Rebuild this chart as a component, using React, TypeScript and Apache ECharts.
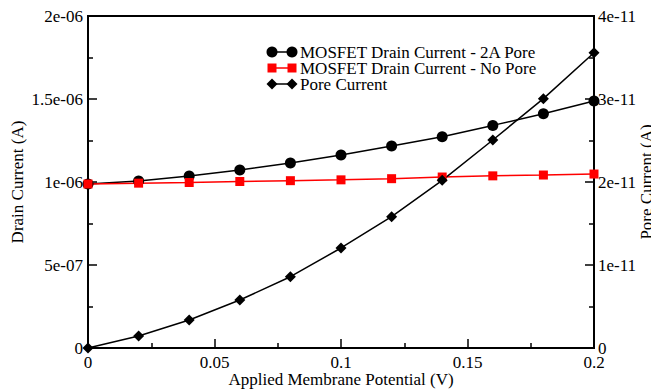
import React, { useEffect, useRef } from "react";
import * as echarts from "echarts";

const potentials = [0, 0.02, 0.04, 0.06, 0.08, 0.1, 0.12, 0.14, 0.16, 0.18, 0.2];
const drain2A = [0.988e-6, 1.006e-6, 1.036e-6, 1.072e-6, 1.114e-6, 1.163e-6, 1.217e-6, 1.273e-6, 1.341e-6, 1.411e-6, 1.488e-6];
const drainNoPore = [0.988e-6, 0.993e-6, 0.997e-6, 1.003e-6, 1.008e-6, 1.013e-6, 1.020e-6, 1.030e-6, 1.037e-6, 1.042e-6, 1.048e-6];
const poreCurrent = [0, 0.145e-11, 0.337e-11, 0.578e-11, 0.859e-11, 1.205e-11, 1.582e-11, 2.02e-11, 2.506e-11, 3.004e-11, 3.558e-11];
const seriesNames = ["MOSFET Drain Current - 2A Pore", "MOSFET Drain Current - No Pore", "Pore Current"];

const FONT = "'Liberation Serif', 'Times New Roman', serif";

function sci(v: number): string {
  if (v === 0) return "0";
  const s = Number(v.toPrecision(6)).toExponential();
  return s.replace(/e([+-])(\d)$/, "e$10$2");
}

export default function App() {
  const ref = useRef<HTMLDivElement>(null);
  useEffect(() => {
    if (!ref.current) return;
    const chart = echarts.init(ref.current, null, { renderer: "svg" });
    const axisCommon = {
      axisLine: { show: true, lineStyle: { color: "#000", width: 2 } },
      axisTick: { show: true, inside: true, length: 9, lineStyle: { color: "#000", width: 1.5 } },
      minorTick: { show: true, splitNumber: 2, length: 5, lineStyle: { color: "#000", width: 1.5 } },
      splitLine: { show: false },
      nameLocation: "middle" as const,
      nameMoveOverlap: false,
      nameTextStyle: { fontFamily: FONT, fontSize: 17, color: "#000" },
      axisLabel: { fontFamily: FONT, fontSize: 17, color: "#000" },
    };
    const lx1 = 272, lx2 = 292;
    const rows = [52, 68, 84];
    const d = 5.5;
    const graphic: any[] = [
      { type: "line", shape: { x1: lx1, y1: rows[0], x2: lx2, y2: rows[0] }, style: { stroke: "#000", lineWidth: 1.5 } },
      { type: "circle", shape: { cx: lx1, cy: rows[0], r: 5.5 }, style: { fill: "#000" } },
      { type: "circle", shape: { cx: lx2, cy: rows[0], r: 5.5 }, style: { fill: "#000" } },
      { type: "line", shape: { x1: lx1, y1: rows[1], x2: lx2, y2: rows[1] }, style: { stroke: "#ff0000", lineWidth: 1.5 } },
      { type: "rect", shape: { x: lx1 - 4.5, y: rows[1] - 4.5, width: 9, height: 9 }, style: { fill: "#ff0000" } },
      { type: "rect", shape: { x: lx2 - 4.5, y: rows[1] - 4.5, width: 9, height: 9 }, style: { fill: "#ff0000" } },
      { type: "line", shape: { x1: lx1, y1: rows[2], x2: lx2, y2: rows[2] }, style: { stroke: "#000", lineWidth: 1.5 } },
      { type: "polygon", shape: { points: [[lx1, rows[2] - d], [lx1 + d, rows[2]], [lx1, rows[2] + d], [lx1 - d, rows[2]]] }, style: { fill: "#000" } },
      { type: "polygon", shape: { points: [[lx2, rows[2] - d], [lx2 + d, rows[2]], [lx2, rows[2] + d], [lx2 - d, rows[2]]] }, style: { fill: "#000" } },
    ];
    seriesNames.forEach((n, i) => {
      graphic.push({
        type: "text",
        x: 300,
        y: rows[i],
        style: { text: n, fontFamily: FONT, fontSize: 17, lineHeight: 16, fill: "#000", verticalAlign: "middle", align: "left" },
      });
    });
    chart.setOption({
      animation: false,
      backgroundColor: "#fff",
      grid: {
        left: 88, right: 57, top: 16, bottom: 42,
        containLabel: false, outerBoundsMode: "none",
        show: true, borderColor: "#000", borderWidth: 2,
      },
      xAxis: {
        type: "value",
        min: 0,
        max: 0.2,
        interval: 0.05,
        name: "Applied Membrane Potential (V)",
        nameGap: 23,
        ...axisCommon,
        axisLabel: { ...axisCommon.axisLabel, margin: 6, formatter: (v: number) => String(Number(v.toPrecision(6))) },
      },
      yAxis: [
        {
          type: "value",
          min: 0,
          max: 2e-6,
          interval: 5e-7,
          name: "Drain Current (A)",
          nameGap: 62,
          ...axisCommon,
          axisLabel: { ...axisCommon.axisLabel, margin: 5, formatter: sci },
        },
        {
          type: "value",
          position: "right",
          min: 0,
          max: 4e-11,
          interval: 1e-11,
          name: "Pore Current (A)",
          nameGap: 44,
          nameRotate: 90,
          ...axisCommon,
          axisLabel: { ...axisCommon.axisLabel, margin: 4, formatter: sci },
        },
      ],
      graphic,
      series: [
        {
          name: seriesNames[0],
          type: "line",
          yAxisIndex: 0,
          data: potentials.map((x, i) => [x, drain2A[i]]),
          symbol: "circle",
          symbolSize: 11,
          clip: false,
          lineStyle: { color: "#000", width: 1.5 },
          itemStyle: { color: "#000" },
        },
        {
          name: seriesNames[1],
          type: "line",
          yAxisIndex: 0,
          data: potentials.map((x, i) => [x, drainNoPore[i]]),
          symbol: "rect",
          symbolSize: 9,
          clip: false,
          lineStyle: { color: "#ff0000", width: 1.5 },
          itemStyle: { color: "#ff0000" },
        },
        {
          name: seriesNames[2],
          type: "line",
          yAxisIndex: 1,
          data: potentials.map((x, i) => [x, poreCurrent[i]]),
          symbol: "diamond",
          symbolSize: 11,
          clip: false,
          lineStyle: { color: "#000", width: 1.5 },
          itemStyle: { color: "#000" },
        },
      ],
    });
    return () => chart.dispose();
  }, []);
  return <div ref={ref} style={{ position: "absolute", left: 0, top: 0, width: 651, height: 390 }} />;
}
